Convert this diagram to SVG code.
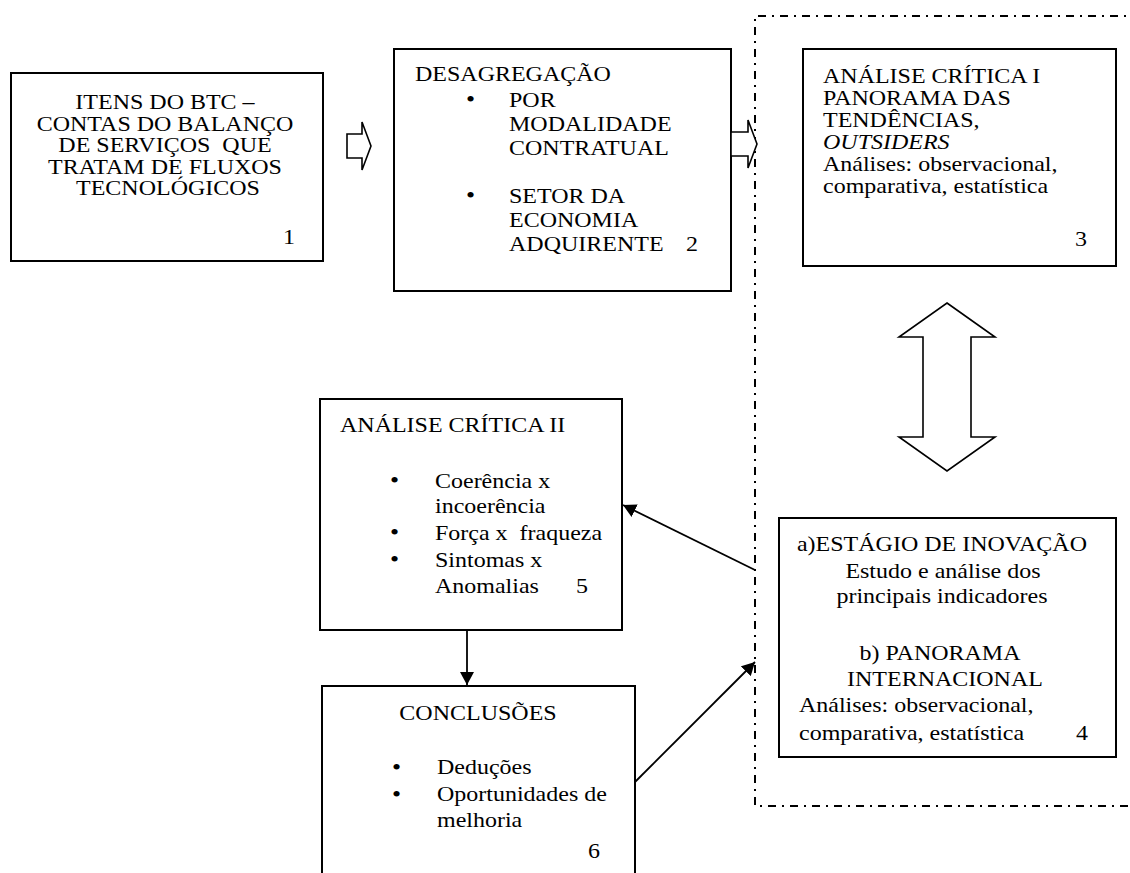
<svg xmlns="http://www.w3.org/2000/svg" width="1130" height="873" viewBox="0 0 1130 873">
<style>
.box{fill:#fff;stroke:#000;stroke-width:2}
.t{font-family:"Liberation Serif","Times New Roman",serif;font-size:24px;fill:#000}
.c{text-anchor:middle}
.e{text-anchor:end}
.b{font-size:26px}
.hollow{fill:#fff;stroke:#000;stroke-width:1.6;stroke-linejoin:miter}
.conn{stroke:#000;stroke-width:1.8;fill:none}
.region{fill:none;stroke:#000;stroke-width:2;stroke-dasharray:8 6 2 6}
</style>
<defs>
<marker id="ah" markerUnits="userSpaceOnUse" markerWidth="14" markerHeight="14" refX="13" refY="7" orient="auto">
<path d="M0,0 L13,7 L0,14 z" fill="#000"/>
</marker>
</defs>
<rect width="1130" height="873" fill="#fff"/>
<path class="region" d="M1140,16 H755 V806 H1140"/>

<g id="node1">
<rect class="box" x="11" y="73" width="312" height="188"/>
<text class="t c" transform="scale(1 0.88)">
<tspan x="168" y="123.86">ITENS DO BTC –</tspan>
<tspan x="168" y="148.52">CONTAS DO BALANÇO</tspan>
<tspan x="168" y="173.07">DE SERVIÇOS&#160; QUE</tspan>
<tspan x="168" y="197.73">TRATAM DE FLUXOS</tspan>
<tspan x="168" y="222.16">TECNOLÓGICOS</tspan>
</text>
<text class="t e" transform="scale(1 0.88)" x="295" y="277.27">1</text>
</g>

<g id="node2">
<rect class="box" x="394" y="49" width="337" height="242"/>
<text class="t" transform="scale(1 0.88)">
<tspan x="415" y="92.05">DESAGREGAÇÃO</tspan>
<tspan class="b" x="466" y="122">•</tspan><tspan x="509" y="121.59">POR</tspan>
<tspan x="509" y="148.86">MODALIDADE</tspan>
<tspan x="509" y="176.14">CONTRATUAL</tspan>
<tspan class="b" x="466" y="231.1">•</tspan><tspan x="509" y="230.68">SETOR DA</tspan>
<tspan x="509" y="257.95">ECONOMIA</tspan>
<tspan x="509" y="285.23">ADQUIRENTE</tspan>
</text>
<text class="t e" transform="scale(1 0.88)" x="698" y="285.23">2</text>
</g>

<g id="node3">
<rect class="box" x="803" y="49" width="313" height="217"/>
<text class="t" transform="scale(1 0.88)">
<tspan x="823" y="94.32">ANÁLISE CRÍTICA I</tspan>
<tspan x="823" y="119.32">PANORAMA DAS</tspan>
<tspan x="823" y="144.32">TENDÊNCIAS,</tspan>
<tspan x="823" y="169.32" font-style="italic">OUTSIDERS</tspan>
<tspan x="823" y="194.32">Análises: observacional,</tspan>
<tspan x="823" y="219.32">comparativa, estatística</tspan>
</text>
<text class="t e" transform="scale(1 0.88)" x="1087" y="279.55">3</text>
</g>

<g id="node4">
<rect class="box" x="779" y="518" width="337" height="239"/>
<text class="t c" transform="scale(1 0.88)">
<tspan x="945" y="626.14">a)ESTÁGIO DE INOVAÇÃO</tspan>
<tspan x="946" y="656.82">Estudo e análise dos</tspan>
<tspan x="945" y="685.23">principais indicadores</tspan>
<tspan x="943" y="750">b) PANORAMA</tspan>
<tspan x="945" y="779.55">INTERNACIONAL</tspan>
</text>
<text class="t" transform="scale(1 0.88)">
<tspan x="799" y="809.09">Análises: observacional,</tspan>
<tspan x="799" y="840.91">comparativa, estatística</tspan>
</text>
<text class="t e" transform="scale(1 0.88)" x="1088" y="840.91">4</text>
</g>

<g id="node5">
<rect class="box" x="320" y="399" width="302" height="231"/>
<text class="t" transform="scale(1 0.88)">
<tspan x="340" y="490.91">ANÁLISE CRÍTICA II</tspan>
<tspan class="b" x="390" y="555">•</tspan><tspan x="435" y="554.55">Coerência x</tspan>
<tspan x="435" y="582.95">incoerência</tspan>
<tspan class="b" x="390" y="614.1">•</tspan><tspan x="435" y="613.64">Força x&#160; fraqueza</tspan>
<tspan class="b" x="390" y="644.8">•</tspan><tspan x="435" y="644.32">Sintomas x</tspan>
<tspan x="435" y="673.86">Anomalias</tspan>
</text>
<text class="t e" transform="scale(1 0.88)" x="588" y="673.86">5</text>
</g>

<g id="node6">
<rect class="box" x="322" y="686" width="313" height="200"/>
<text class="t c" transform="scale(1 0.88)" x="478" y="818.18">CONCLUSÕES</text>
<text class="t" transform="scale(1 0.88)">
<tspan class="b" x="392" y="880.2">•</tspan><tspan x="437" y="879.55">Deduções</tspan>
<tspan class="b" x="392" y="911.4">•</tspan><tspan x="437" y="910.23">Oportunidades de</tspan>
<tspan x="437" y="939.77">melhoria</tspan>
</text>
<text class="t e" transform="scale(1 0.88)" x="600" y="975">6</text>
</g>

<g id="connectors">
<path class="hollow" d="M347,134 H362 V122 L371,146 L362,170 V158 H347 Z"/>
<path class="hollow" d="M731,132 H748 V120 L757,144 L748,168 V156 H731 Z"/>
<path class="hollow" d="M947,303 L995,337 H971 V437 H995 L947,471 L899,437 H923 V337 H899 Z"/>
<line class="conn" x1="755" y1="570" x2="623" y2="505" marker-end="url(#ah)"/>
<line class="conn" x1="635" y1="782" x2="755" y2="662" marker-end="url(#ah)"/>
<line class="conn" x1="467" y1="630" x2="467" y2="685" marker-end="url(#ah)"/>
</g>
</svg>
